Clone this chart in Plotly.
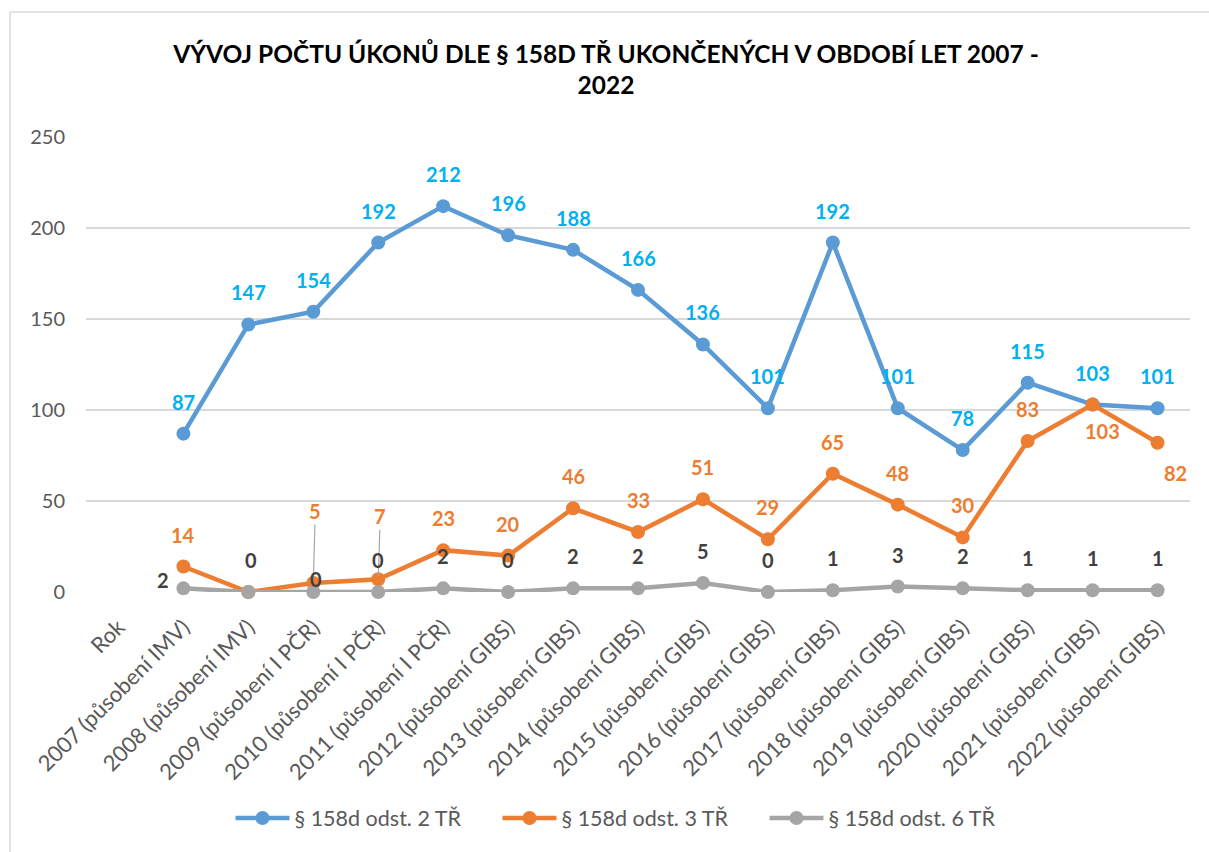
import plotly.graph_objects as go

categories = ["Rok", "2007 (působení IMV)", "2008 (působení IMV)", "2009 (působení I PČR)",
              "2010 (působení I PČR)", "2011 (působení I PČR)", "2012 (působení GIBS)",
              "2013 (působení GIBS)", "2014 (působení GIBS)", "2015 (působení GIBS)",
              "2016 (působení GIBS)", "2017 (působení GIBS)", "2018 (působení GIBS)",
              "2019 (působení GIBS)", "2020 (působení GIBS)", "2021 (působení GIBS)",
              "2022 (působení GIBS)"]
odst2 = [None, 87, 147, 154, 192, 212, 196, 188, 166, 136, 101, 192, 101, 78, 115, 103, 101]
odst3 = [None, 14, 0, 5, 7, 23, 20, 46, 33, 51, 29, 65, 48, 30, 83, 103, 82]
odst6 = [None, 2, 0, 0, 0, 2, 0, 2, 2, 5, 0, 1, 3, 2, 1, 1, 1]
series_names = ["§ 158d odst. 2 TŘ", "§ 158d odst. 3 TŘ", "§ 158d odst. 6 TŘ"]
title_text = "VÝVOJ POČTU ÚKONŮ DLE § 158D TŘ UKONČENÝCH V OBDOBÍ LET 2007 -<br>2022"

# styling
line_colors = ["#5B9BD5", "#ED7D31", "#A5A5A5"]
label_colors = ["#00B0F0", "#ED7D31", "#404040"]
FONT = "Lato"

# label offsets (px): default above the point
default_shift = (0, 32)
shifts3 = {2: None, 15: (10, -26), 16: (18, -30)}
leaders3 = {3: (2, -72), 4: (2, -63)}
shifts6 = {1: (-20, 8), 2: (3, 32), 3: (3, 13)}

fig = go.Figure()
for name, vals, col in zip(series_names, [odst2, odst3, odst6], line_colors):
    fig.add_trace(go.Scatter(
        x=categories, y=vals, name=name, mode="lines+markers",
        line=dict(color=col, width=4.5),
        marker=dict(color=col, size=14),
        cliponaxis=False,
    ))

annotations = []
def add_labels(vals, color, shifts, leaders=None):
    leaders = leaders or {}
    for i, v in enumerate(vals):
        if v is None:
            continue
        if i in leaders:
            ax, ay = leaders[i]
            annotations.append(dict(
                x=categories[i], y=v, xref="x", yref="y", text=f"<b>{v}</b>",
                showarrow=True, arrowhead=0, arrowwidth=1.2, arrowcolor="#A6A6A6",
                ax=ax, ay=ay, standoff=3,
                font=dict(family=FONT, size=20, color=color)))
            continue
        s = shifts.get(i, default_shift)
        if s is None:
            continue
        annotations.append(dict(
            x=categories[i], y=v, xref="x", yref="y", text=f"<b>{v}</b>",
            showarrow=False, xshift=s[0], yshift=s[1],
            font=dict(family=FONT, size=20, color=color)))

add_labels(odst2, label_colors[0], {})
add_labels(odst3, label_colors[1], shifts3, leaders3)
add_labels(odst6, label_colors[2], shifts6)

W, H = 1209, 852
L, R, T, B = 86, 1190, 137, 592  # plot area in page pixels
def px(x):
    return (x - L) / (R - L)
def py(y):
    return (B - y) / (B - T)

border = dict(color="#D9D9D9", width=1.5)
fig.update_layout(
    width=W, height=H,
    margin=dict(l=L, r=W - R, t=T, b=H - B),
    paper_bgcolor="white", plot_bgcolor="white",
    font=dict(family=FONT, color="#595959"),
    title=dict(text=f"<b>{title_text}</b>", x=606 / W, xanchor="center", xref="container",
               y=1 - 62.5 / H, yanchor="middle", yref="container",
               font=dict(family=FONT, size=24.5, color="#000000")),
    showlegend=True,
    legend=dict(orientation="h", x=px(631), xanchor="center", y=py(818), yanchor="middle",
                font=dict(family=FONT, size=21.5, color="#595959"), itemwidth=54,
                entrywidth=198, entrywidthmode="pixels",
                bgcolor="rgba(0,0,0,0)"),
    annotations=annotations,
    shapes=[dict(type="line", xref="paper", yref="paper",
                 x0=px(10), x1=px(1260), y0=py(12), y1=py(12), line=border, layer="below"),
            dict(type="line", xref="paper", yref="paper",
                 x0=px(10), x1=px(10), y0=py(12), y1=py(900), line=border, layer="below")],
)
fig.update_xaxes(type="category", categoryorder="array", categoryarray=categories,
                 tickangle=-45, tickfont=dict(family=FONT, size=22, color="#595959"),
                 showgrid=False, showline=False, zeroline=False, ticks="",
                 ticklabelstandoff=17,
                 range=[-0.5, len(categories) - 0.5])
fig.update_yaxes(range=[0, 250], dtick=50, tickfont=dict(family=FONT, size=20, color="#595959"),
                 gridcolor="#D9D9D9", gridwidth=1.5, showline=False, zeroline=False,
                 ticklabelstandoff=20)

fig.write_html("out.html", config={"displayModeBar": False},
               post_script="document.body.style.margin='0';document.body.style.overflow='hidden';")
